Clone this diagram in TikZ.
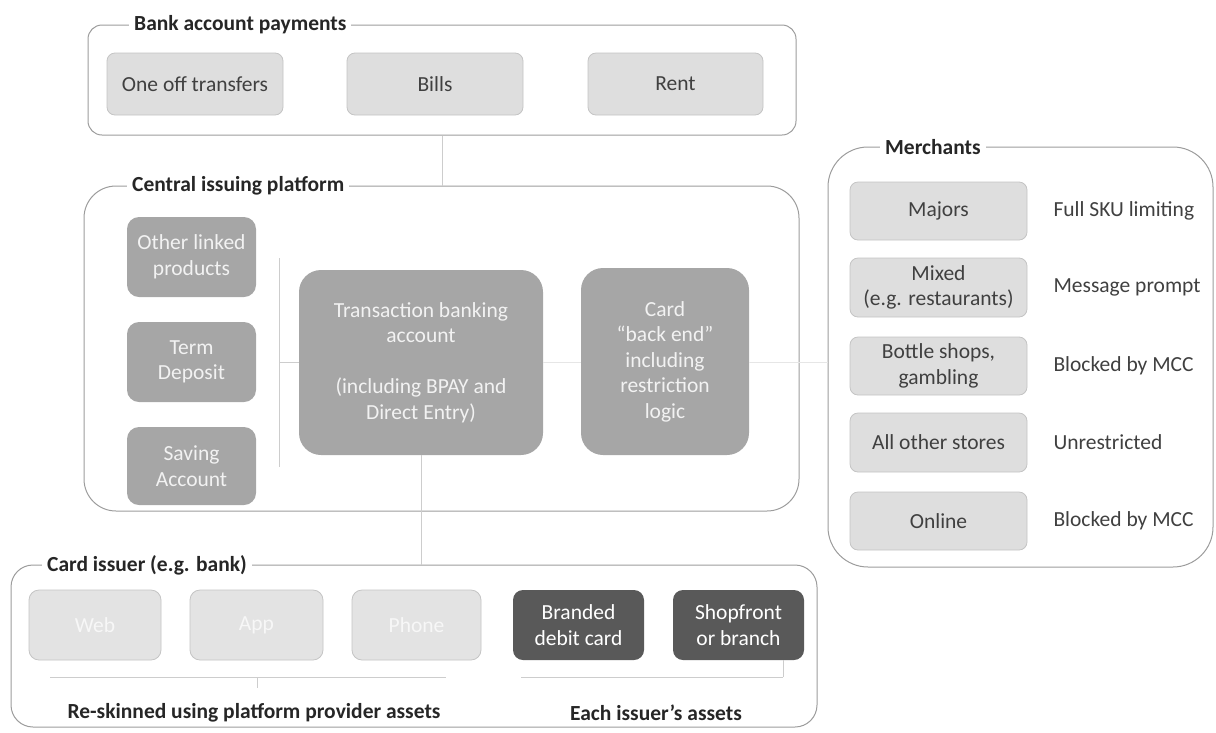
\documentclass[tikz,border=0pt]{standalone}
\usepackage{fontspec}
\setmainfont{Carlito}
\definecolor{contline}{HTML}{9C9C9C}
\definecolor{labtext}{HTML}{262626}
\definecolor{lightfill}{HTML}{DEDEDE}
\definecolor{lightdraw}{HTML}{C4C4C4}
\definecolor{darktext}{HTML}{404040}
\definecolor{midfill}{HTML}{A6A6A6}
\definecolor{midtext}{HTML}{F2F2F2}
\definecolor{palefill}{HTML}{E3E3E3}
\definecolor{paletext}{HTML}{F7F7F7}
\definecolor{deepfill}{HTML}{595959}
\definecolor{connline}{HTML}{CDCDCD}
\definecolor{faintline}{HTML}{E6E6E6}
\begin{document}
\begin{tikzpicture}[x=1pt,y=-1pt,
  font=\fontsize{21.5}{25.5}\selectfont,
  container/.style={draw=contline, line width=1pt, inner sep=0pt},
  clabel/.style={anchor=west, fill=white, text=labtext, font=\fontsize{21.5}{25.5}\selectfont\bfseries, inner xsep=5pt, inner ysep=1pt},
  lightbox/.style={draw=lightdraw, fill=lightfill, text=darktext, rounded corners=8pt, align=center, inner sep=0pt, line width=0.8pt},
  midbox/.style={fill=midfill, text=midtext, align=center, inner sep=0pt},
  palebox/.style={draw=lightdraw, fill=palefill, text=paletext, rounded corners=10pt, align=center, inner sep=0pt, line width=0.8pt},
  deepbox/.style={fill=deepfill, text=white, rounded corners=10pt, align=center, inner sep=0pt},
  conn/.style={draw=connline, line width=1pt},
  faint/.style={draw=faintline, line width=1pt},
  note/.style={anchor=west, text=darktext},
  caption/.style={text=labtext, font=\fontsize{21.5}{25.5}\selectfont\bfseries}
]
\useasboundingbox (0,0) rectangle (1216,732);

% ---------------- Bank account payments ----------------
\node[container, rounded corners=14pt, minimum width=708, minimum height=110] (bankc) at (442,80) {};
\node[clabel] (bankl) at (129,25) {Bank account payments};
\node[lightbox, minimum width=176, minimum height=62] (oneoff) at (195,84) {One off transfers};
\node[lightbox, minimum width=176, minimum height=62] (bills) at (435,84) {Bills};
\node[lightbox, minimum width=175, minimum height=62] (rent) at (675.5,84) {Rent};

% ---------------- Central issuing platform ----------------
\node[container, rounded corners=32pt, minimum width=715, minimum height=325] (centc) at (441.5,348.5) {};
\node[clabel] (centl) at (127,186) {Central issuing platform};
\node[midbox, rounded corners=12pt, minimum width=129, minimum height=80] (other) at (191.5,257) {Other linked\\products};
\node[midbox, rounded corners=12pt, minimum width=129, minimum height=80] (term) at (191.5,362) {Term\\Deposit};
\node[midbox, rounded corners=12pt, minimum width=129, minimum height=78] (saving) at (191.5,466) {Saving\\Account};
\node[midbox, rounded corners=22pt, minimum width=244, minimum height=185] (trans) at (421,362.5) {Transaction banking\\account\\[25.5pt](including BPAY and\\Direct Entry)};
\node[midbox, rounded corners=22pt, minimum width=168, minimum height=187] (card) at (665,361.5) {Card\\“back end”\\including\\restriction\\logic};

% ---------------- Card issuer ----------------
\node[container, rounded corners=22pt, minimum width=806, minimum height=162] (issc) at (414,646) {};
\node[clabel] (issl) at (42,565) {Card issuer (e.g. bank)};
\node[palebox, minimum width=132, minimum height=70] (web) at (95,625) {Web};
\node[palebox, minimum width=133, minimum height=70] (app) at (256.5,625) {App};
\node[palebox, minimum width=129, minimum height=70] (phone) at (416.5,625) {Phone};
\node[deepbox, minimum width=131, minimum height=70] (branded) at (578.5,625) {Branded\\debit card};
\node[deepbox, minimum width=131, minimum height=70] (shop) at (738.5,625) {Shopfront\\or branch};
\node[caption] (reskin) at (254,713) {Re-skinned using platform provider assets};
\node[caption] (each) at (656,713) {Each issuer’s assets};

% ---------------- Merchants ----------------
\node[container, rounded corners=40pt, minimum width=385, minimum height=420] (merc) at (1020.5,357) {};
\node[clabel] (mercl) at (880,147) {Merchants};
\node[lightbox, minimum width=177, minimum height=58] (majors) at (938.5,211) {Majors};
\node[lightbox, minimum width=177, minimum height=59] (mixed) at (938.5,287.5) {Mixed\\(e.g. restaurants)};
\node[lightbox, minimum width=177, minimum height=58] (bottle) at (938.5,366) {Bottle shops,\\gambling};
\node[lightbox, minimum width=177, minimum height=59] (allother) at (938.5,442.5) {All other stores};
\node[lightbox, minimum width=177, minimum height=58] (online) at (938.5,521) {Online};
\node[note] (n1) at (1050,211) {Full SKU limiting};
\node[note] (n2) at (1050,287.5) {Message prompt};
\node[note] (n3) at (1050,366) {Blocked by MCC};
\node[note] (n4) at (1050,442.5) {Unrestricted};
\node[note] (n5) at (1050,521) {Blocked by MCC};

% ---------------- Connectors ----------------
\draw[conn] (bankc.south) -- (bankc.south |- centc.north);
\draw[conn] (trans.south) -- (trans.south |- issc.north);
\coordinate (lt) at (279,258);
\coordinate (lb) at (279,467);
\draw[conn] (lt) -- (lb);
\draw[conn] (lt |- trans.west) -- (trans.west);
\draw[faint] (trans.east) -- (card.west |- trans.east);
\draw[faint] (card.east |- trans.east) -- (merc.west |- trans.east);

% brackets under issuer assets
\coordinate (b1l) at (50,677);
\coordinate (b1r) at (446,677);
\coordinate (b1t) at (257,688);
\draw[conn] (b1l) -- (b1r);
\draw[conn] (b1t |- b1l) -- (b1t);
\coordinate (b2l) at (521,677);
\coordinate (b2r) at (783,677);
\draw[conn] (b2l) -- (b2r);
\draw[conn] (b2r) -- (b2r |- shop.south);
\end{tikzpicture}
\end{document}
